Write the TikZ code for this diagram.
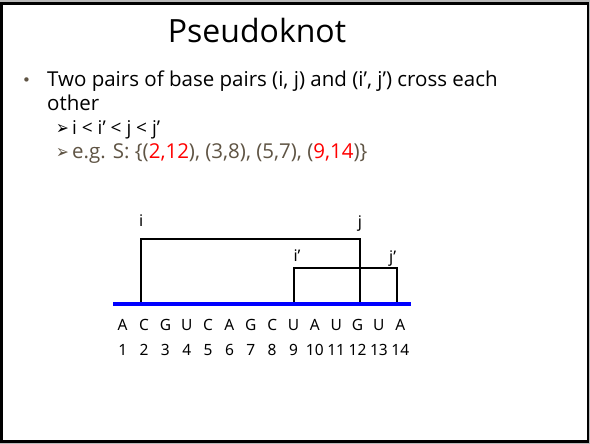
\documentclass[tikz,border=0pt]{standalone}
\usepackage{fontspec}
\setmainfont{Open Sans}
\newfontfamily\seqfont{Noto Sans}
\newfontfamily\symfont{DejaVu Sans}
\usetikzlibrary{positioning}
\definecolor{slidebrown}{RGB}{95,84,68}
\definecolor{backboneblue}{RGB}{0,0,255}

\begin{document}
\begin{tikzpicture}[
  x=1pt,y=-1pt,
  heading/.style={font=\fontsize{32}{38}\selectfont,anchor=base,inner sep=0pt},
  txt/.style={font=\fontsize{20.5}{24}\selectfont,anchor=base west,inner sep=0pt},
  sub/.style={txt,text=slidebrown},
  tip/.style={font=\symfont\fontsize{19}{20}\selectfont,anchor=base east,inner sep=0pt,xscale=0.8},
  base/.style={font=\seqfont\fontsize{15.5}{18}\selectfont,anchor=base,inner sep=0pt},
  lbl/.style={base,font=\seqfont\fontsize{16}{18}\selectfont},
  pair/.style={draw,line width=2pt},
  backbone/.style={draw=backboneblue,line width=4pt}
]
\useasboundingbox (0,0) rectangle (590,444);
\fill[gray!55] (0,0) rectangle (590,444);
\draw[line width=2.6pt,fill=white] (1.3,3.8) rectangle (588,441.3);
\node[heading] (title) at (257,43) {Pseudoknot};
\node[font=\symfont\fontsize{15}{16}\selectfont,anchor=base west,inner sep=0pt,text=slidebrown] (dot) at (22,86) {•};
\node[txt] (line1) at (47,87) {Two pairs of base pairs (i, j) and (i', j') cross each};
\node[txt] (line2) at (47,111) {other};
\node[txt,font=\fontsize{19}{24}\selectfont] (order) at (72,135) {i < i' < j < j'};
\node[tip] (tip1) at (69,135) {➢};
\node[sub] (eg) at (72,158) {e.g. S: \{(\textcolor{red}{2,12}), (3,8), (5,7), (\textcolor{red}{9,14})\}};
\node[tip,text=slidebrown] (tip2) at (69,158) {➢};
\foreach \b [count=\k] in {A,C,G,U,C,A,G,C,U,A,U,G,U,A} {
  \node[base] (b\k) at ({122.7+(\k-1)*21.35},330) {\b};
  \node[base] (n\k) at ({122.7+(\k-1)*21.35},355) {\k};
}
\coordinate (bbL) at (113.3,304.3);
\coordinate (bbR) at (410.7,304.3);
\coordinate (p2) at (141,304.3);
\coordinate (p9) at (294.3,304.3);
\coordinate (p12) at (360,304.3);
\coordinate (p14) at (396.7,304.3);
\draw[pair] (p2) -- ++(0,-65) -| (p12);
\draw[pair] (p9) -- ++(0,-36.6) -| (p14);
\draw[backbone] (bbL) -- (bbR);
\node[lbl] (i) at (141.3,226.7) {i};
\node[lbl] (j) at (360,227.5) {j};
\node[lbl] (ip) at (297,261.7) {i’};
\node[lbl] (jp) at (392.7,262.5) {j’};
\end{tikzpicture}
\end{document}
